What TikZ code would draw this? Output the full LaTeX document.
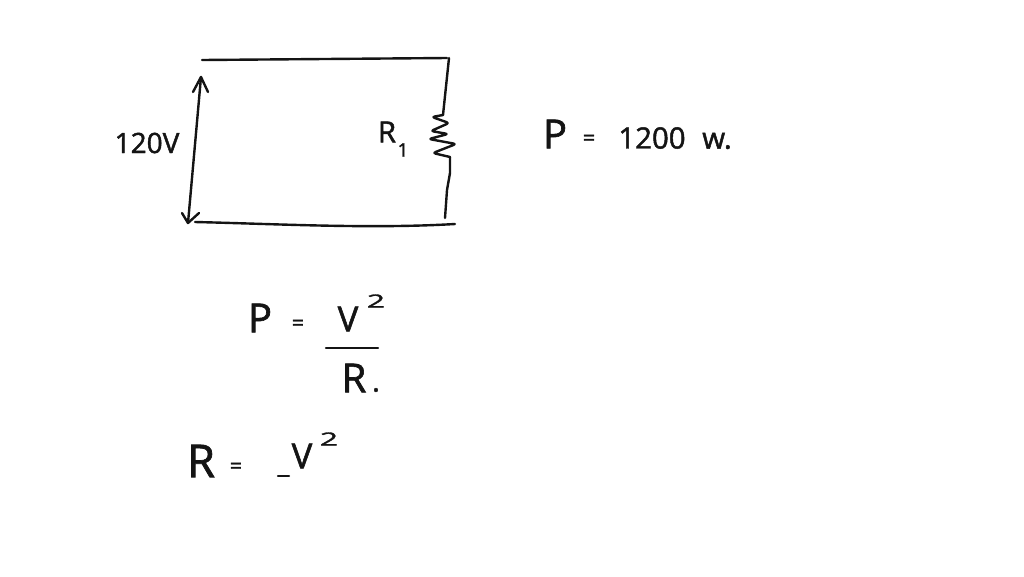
\documentclass[tikz,border=0pt]{standalone}
\usepackage{fontspec}
\setmainfont[FakeBold=1.6]{Open Sans}
\newcommand{\fs}[1]{\fontsize{#1}{#1}\selectfont}
\tikzset{
  ink/.style={draw=black!92, line width=1.8pt, line cap=round, line join=round},
  txt/.style={inner sep=0pt, outer sep=0pt, text=black!92},
  big/.style={txt, font=\fs{30}},
  vee/.style={txt, font=\fs{26}},
  mid/.style={txt, font=\fs{22}},
  eqs/.style={txt, font=\fs{16}},
  small/.style={txt, font=\fs{14}},
  sq/.style={txt, font=\fs{17}, xscale=1.4, yscale=0.8}
}
\begin{document}
\begin{tikzpicture}[x=0.75pt,y=-0.75pt]
\useasboundingbox (0,0) rectangle (1024,576);
% circuit
\coordinate (tl) at (202,60);
\coordinate (tr) at (447,58);
\coordinate (rt) at (449,58);
\coordinate (rs) at (443,115);
\coordinate (re) at (450,157);
\coordinate (rb) at (445,218);
\coordinate (bl) at (195,222);
\coordinate (br) at (455,224);
\coordinate (vt) at (201,77);
\coordinate (vb) at (188,223);
\draw[ink] (tl) -- (tr);
\draw[ink] (rt) -- (rs);
\draw[ink, rounded corners=2pt] (rs) -- (432,117) -- (449,123) -- (431,131) -- (448,134) -- (429,139) -- (456,144) -- (433,153) -- (re);
\draw[ink] (re) -- (450,173) -- (447,190) -- (rb);
\draw[ink] (bl) .. controls (280,224) and (370,229) .. (br);
\draw[ink] (vt) -- (vb);
\draw[ink] (193,92) -- (vt) -- (208,92);
\draw[ink] (182,213) -- (vb) -- (199,213);
% labels
\node[txt, font=\fs{21}] (v120) at (147,143) {120V};
\node[mid] (r1) at (387,132) {R};
\node[small] (r1s) at (403,150) {1};
\node[big] (p1) at (555,134) {P};
\node[eqs] (e1) at (589,140) {=};
\node[mid] (w1) at (652,138) {1200};
\node[mid] (w2) at (717,141) {w.};
% formula 1
\node[big] (p2) at (260,318) {P};
\node[eqs] (e2) at (298,325) {=};
\node[vee] (v2) at (348,319) {V};
\node[sq] (v2s) at (376,301) {2};
\coordinate (f1) at (326,348);
\coordinate (f2) at (378,348);
\draw[ink] (f1) -- (f2);
\node[big] (r2) at (354,378) {R};
\node[mid] (d2) at (376,390) {.};
% formula 2
\node[txt, font=\fs{34}] (r3) at (201,461) {R};
\node[eqs] (e3) at (236,468) {=};
\coordinate (b1) at (278,476);
\coordinate (b2) at (289,476);
\draw[ink] (b1) -- (b2);
\node[vee] (v3) at (302,456) {V};
\node[sq] (v3s) at (329,439) {2};
\end{tikzpicture}
\end{document}
